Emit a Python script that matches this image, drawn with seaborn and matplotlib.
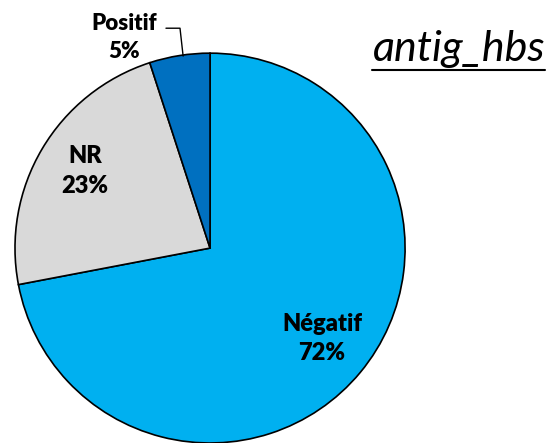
import matplotlib.pyplot as plt
import seaborn as sns

labels = ["Négatif", "NR", "Positif"]
values = [72, 23, 5]
colors = ["#00B0F0", "#D9D9D9", "#0070C0"]

sns.set_theme(style="white")
plt.rcParams['font.family'] = ['Lato', 'DejaVu Sans']

fig = plt.figure(figsize=(5.51, 4.43), dpi=100)
ax = fig.add_axes([0.0272, 0.0, 0.708, 0.880])
ax.pie(values, colors=colors, startangle=90, counterclock=False,
       wedgeprops={'edgecolor': 'black', 'linewidth': 1.2})
ax.set_xlim(-1, 1)
ax.set_ylim(-1, 1)
ax.set_aspect('auto')
ax.axis('off')

# slice labels
pos = [(0.574, -0.465), (-0.641, 0.395), (-0.44, 1.08)]
sizes = [17, 17, 16]
for lab, v, (x, y), fs in zip(labels, values, pos, sizes):
    ax.text(x, y, f"{lab}\n{v}%", ha='center', va='center', fontsize=fs,
            fontweight='heavy', color='black', linespacing=1.4, clip_on=False)
ax.plot([-0.226, -0.154, -0.138], [1.128, 1.128, 0.985], color='black',
        lw=1, clip_on=False)

fig.text(0.99, 0.89, "antig_hbs", ha='right', va='center', fontsize=31,
         style='italic', color='black')
fig.add_artist(plt.Line2D([0.675, 0.99], [0.843, 0.843], color='black', lw=1.5))

fig.savefig("out.png", dpi=100)
